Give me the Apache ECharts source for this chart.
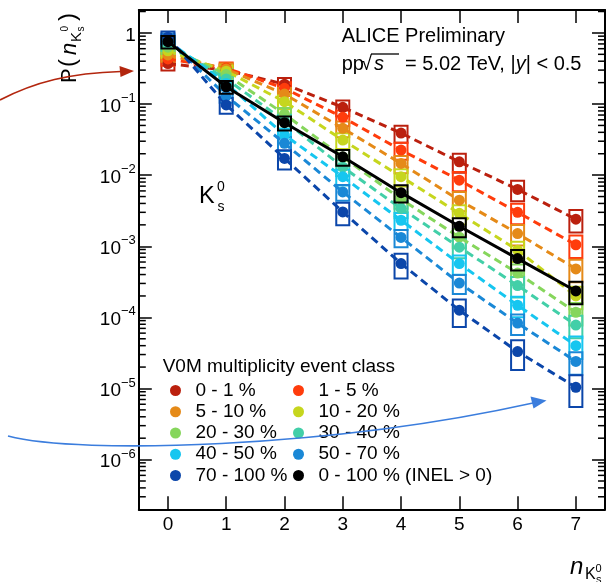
<!DOCTYPE html>
<html>
<head>
<meta charset="utf-8">
<script src="https://cdn.jsdelivr.net/npm/echarts@6/dist/echarts.min.js"></script>
<style>
  html, body { margin: 0; padding: 0; background: #fff; }
  #chart { width: 608px; height: 582px; }
</style>
</head>
<body>
<div id="chart"></div>
<script>
// Number of K0s per event (x) and its probability per V0M multiplicity class
const nK0s = [0, 1, 2, 3, 4, 5, 6, 7];

const cls0to1    = [0.37, 0.30, 0.19, 0.090, 0.039, 0.0154, 0.0063, 0.0024];
const cls1to5    = [0.43, 0.32, 0.166, 0.065, 0.0225, 0.0085, 0.0030, 0.00105];
const cls5to10   = [0.49, 0.31, 0.138, 0.0455, 0.0146, 0.00445, 0.00151, 0.00048];
const cls10to20  = [0.56, 0.29, 0.108, 0.0311, 0.0095, 0.0029, 0.00088, 0.00020];
const cls20to30  = [0.63, 0.26, 0.072, 0.0180, 0.0046, 0.00134, 0.00042, 0.000118];
const cls30to40  = [0.70, 0.225, 0.058, 0.0130, 0.0034, 0.00097, 0.00028, 0.000078];
const cls40to50  = [0.77, 0.195, 0.0366, 0.0095, 0.00232, 0.00057, 0.000148, 0.000040];
const cls50to70  = [0.82, 0.13, 0.028, 0.0058, 0.00133, 0.000304, 0.000083, 0.000024];
const cls70to100 = [0.87, 0.097, 0.0172, 0.00304, 0.00057, 0.000126, 0.000033, 0.0000104];
const inelGt0    = [0.754, 0.175, 0.0546, 0.0181, 0.00567, 0.00191, 0.00067, 0.000235];

// relative systematic uncertainty per n (drawn as open boxes)
const sysRel     = [0.20, 0.20, 0.22, 0.25, 0.27, 0.30, 0.32, 0.35];
const sysRelLow  = [0.20, 0.25, 0.30, 0.35, 0.38, 0.42, 0.45, 0.47];

const classNames = ['0 - 1 %', '1 - 5 %', '5 - 10 %', '10 - 20 %', '20 - 30 %',
                    '30 - 40 %', '40 - 50 %', '50 - 70 %', '70 - 100 %'];
const inelName = '0 - 100 % (INEL > 0)';

// y-axis range
const yMin = 2e-7, yMax = 2.1;

const FONT = '"Liberation Sans", Arial, Helvetica, sans-serif';
const palette = ['#bb200e', '#ff3c0c', '#e58a18', '#c6d61e', '#86d65c',
                 '#42cfa8', '#16c6f0', '#1a88d6', '#0b46aa'];

const classValues = [cls0to1, cls1to5, cls5to10, cls10to20, cls20to30,
                     cls30to40, cls40to50, cls50to70, cls70to100];

function pairs(vals) { return nK0s.map((n, k) => [n, vals[k]]); }

function boxSeries(vals, sys, color, z) {
  return {
    type: 'custom', z: z, silent: true, clip: false,
    data: pairs(vals),
    renderItem: function (params, api) {
      const n = api.value(0), v = api.value(1);
      const e = sys[n];
      const top = api.coord([n, v * (1 + e)]);
      const bot = api.coord([n, v * (1 - e)]);
      const w = 13;
      return {
        type: 'rect',
        shape: { x: top[0] - w / 2, y: top[1], width: w, height: bot[1] - top[1] },
        style: { fill: 'none', stroke: color, lineWidth: 2 }
      };
    }
  };
}

function lineSeries(name, vals, color, dashed, z) {
  return {
    type: 'line', name: name, z: z, silent: true,
    data: pairs(vals),
    symbol: 'circle', symbolSize: 11,
    itemStyle: { color: color, borderWidth: 0 },
    lineStyle: { color: color, width: 3, type: dashed ? [8, 5] : 'solid' },
    emphasis: { disabled: true }
  };
}

// minor ticks at 2..9 x 10^k inside the y range
const minorTickVals = [];
for (let k = -7; k <= 0; k++) {
  for (let m = 2; m <= 9; m++) {
    const v = m * Math.pow(10, k);
    if (v > yMin && v < yMax) minorTickVals.push([0, v]);
  }
}

const series = [];
classValues.forEach((vals, i) => {
  series.push(boxSeries(vals, i === 8 ? sysRelLow : sysRel, palette[i], 1));
});
classValues.forEach((vals, i) => {
  series.push(lineSeries(classNames[i], vals, palette[i], true, 2));
});
series.push(boxSeries(inelGt0, sysRel, '#000', 3));
series.push(lineSeries(inelName, inelGt0, '#000', false, 4));
series.push({
  type: 'custom', z: 5, silent: true, clip: false,
  data: minorTickVals,
  renderItem: function (params, api) {
    const y = api.coord([0, api.value(1)])[1];
    const cs = params.coordSys;
    const len = 7;
    return {
      type: 'group',
      children: [
        { type: 'line', shape: { x1: cs.x, y1: y, x2: cs.x + len, y2: y },
          style: { stroke: '#000', lineWidth: 1.5 } },
        { type: 'line', shape: { x1: cs.x + cs.width, y1: y, x2: cs.x + cs.width - len, y2: y },
          style: { stroke: '#000', lineWidth: 1.5 } }
      ]
    };
  }
});

// legend: two columns, row-major
const legendNames = classNames.concat([inelName]);
const legends = legendNames.map((name, i) => ({
  data: [name],
  left: (i % 2 === 0) ? 170 : 293,
  top: 381 + Math.floor(i / 2) * 21.25,
  orient: 'horizontal',
  icon: 'circle',
  itemWidth: 30, itemHeight: 11,
  padding: 0,
  selectedMode: false,
  itemStyle: { borderWidth: 0 },
  textStyle: { fontSize: 19, fontFamily: FONT, color: '#000', padding: 0 }
}));

function txt(x, baseline, text, size, extra) {
  return {
    type: 'text', x: x, y: baseline - 0.34 * size, silent: true, z: 50,
    style: Object.assign({
      text: text, fontSize: size, fontFamily: FONT, fill: '#000',
      align: 'left', verticalAlign: 'middle'
    }, extra || {})
  };
}

const graphics = [
  txt(341.7, 43.3, 'ALICE Preliminary', 20),
  txt(341.7, 71.7, 'pp', 20),
  txt(361, 71.7, '\u221A', 20),
  txt(374, 71.7, 's', 20, { fontStyle: 'italic' }),
  { type: 'line', silent: true, z: 50, shape: { x1: 371, y1: 54, x2: 399, y2: 54 },
    style: { stroke: '#000', lineWidth: 1.3 } },
  {
    type: 'text', x: 405, y: 71.7 - 0.34 * 20, silent: true, z: 50,
    style: {
      text: '{a|= 5.02 TeV, |}{i|y}{a|| < 0.5}',
      verticalAlign: 'middle', align: 'left',
      rich: {
        a: { fontSize: 20, fontFamily: FONT, fill: '#000' },
        i: { fontSize: 20, fontFamily: FONT, fill: '#000', fontStyle: 'italic' }
      }
    }
  },
  // K0s label inside the frame
  txt(199, 205, 'K', 23.5),
  txt(217, 192, '0', 14),
  txt(217.5, 212, 's', 14),
  // legend header
  txt(162.7, 373.3, 'V0M multiplicity event class', 19),
  // x-axis title
  txt(570, 575, 'n', 24, { fontStyle: 'italic' }),
  txt(585, 580, 'K', 16),
  txt(595.5, 572.5, '0', 11),
  txt(596, 584, 's', 11),
  // y-axis title, rotated to read upwards
  {
    type: 'group', x: 77, y: 84, rotation: Math.PI / 2, silent: true, z: 50,
    children: [
      txt(1, 0, 'P', 22),
      txt(17, 0, '(', 24),
      txt(29, 0, 'n', 22, { fontStyle: 'italic' }),
      txt(42, 5, 'K', 15),
      txt(52.5, -8, '0', 10),
      txt(52.5, 8, 's', 10),
      txt(63, 0, ')', 24)
    ]
  },
  // annotation arrows
  { type: 'bezierCurve', silent: true, z: 60,
    shape: { x1: 0, y1: 100, cpx1: 35, cpy1: 82, cpx2: 70, cpy2: 73, x2: 121, y2: 71.5 },
    style: { stroke: '#b3260e', lineWidth: 1.6, fill: 'none' } },
  { type: 'polygon', silent: true, z: 60,
    shape: { points: [[134, 71], [119.5, 66], [120.5, 77]] },
    style: { fill: '#b3260e' } },
  { type: 'bezierCurve', silent: true, z: 60,
    shape: { x1: 8, y1: 436, cpx1: 80, cpy1: 455, cpx2: 330, cpy2: 448, x2: 533, y2: 403 },
    style: { stroke: '#3b7ddd', lineWidth: 1.6, fill: 'none' } },
  { type: 'polygon', silent: true, z: 60,
    shape: { points: [[546.5, 400.5], [530.5, 396.5], [533.5, 408.5]] },
    style: { fill: '#3b7ddd' } }
];

function yLabel(v) {
  const e = Math.log10(v);
  const r = Math.round(e);
  if (Math.abs(e - r) > 1e-6) return '';
  if (r === 0) return '{b|1}';
  return '{b|10}{s|\u2212' + (-r) + '}';
}

const axisLineStyle = { color: '#000', width: 2 };
const tickStyle = { color: '#000', width: 1.5 };

const option = {
  animation: false,
  backgroundColor: '#fff',
  grid: { left: 138.8, right: -3.3, top: 10, bottom: 72.7, containLabel: false },
  xAxis: [
    {
      type: 'value', position: 'bottom', min: -0.5, max: 7.5, splitNumber: 8,
      axisLine: { onZero: false, lineStyle: axisLineStyle },
      axisTick: { inside: true, length: 13, lineStyle: tickStyle },
      splitLine: { show: false },
      axisLabel: {
        margin: 6, fontSize: 19, fontFamily: FONT, color: '#000',
        formatter: v => (Math.abs(v - Math.round(v)) < 1e-9 ? String(Math.round(v)) : '')
      }
    },
    {
      type: 'value', position: 'top', min: -0.5, max: 7.5, splitNumber: 8,
      axisLine: { onZero: false, lineStyle: axisLineStyle },
      axisTick: { inside: true, length: 13, lineStyle: tickStyle },
      splitLine: { show: false },
      axisLabel: { show: false }
    }
  ],
  yAxis: [
    {
      type: 'log', logBase: 10, position: 'left', min: yMin, max: yMax,
      axisLine: { onZero: false, lineStyle: axisLineStyle },
      axisTick: { inside: true, length: 13, lineStyle: tickStyle },
      splitLine: { show: false },
      axisLabel: {
        margin: 3, formatter: yLabel,
        rich: {
          b: { fontSize: 19, fontFamily: FONT, color: '#000', lineHeight: 24, verticalAlign: 'bottom' },
          s: { fontSize: 13, fontFamily: FONT, color: '#000', lineHeight: 13, verticalAlign: 'top' }
        }
      }
    },
    {
      type: 'log', logBase: 10, position: 'right', min: yMin, max: yMax,
      axisLine: { onZero: false, lineStyle: axisLineStyle },
      axisTick: { inside: true, length: 13, lineStyle: tickStyle },
      splitLine: { show: false },
      axisLabel: { show: false }
    }
  ],
  legend: legends,
  series: series,
  graphic: graphics
};

const chart = echarts.init(document.getElementById('chart'), null, { renderer: 'canvas' });
chart.setOption(option);
</script>
</body>
</html>
